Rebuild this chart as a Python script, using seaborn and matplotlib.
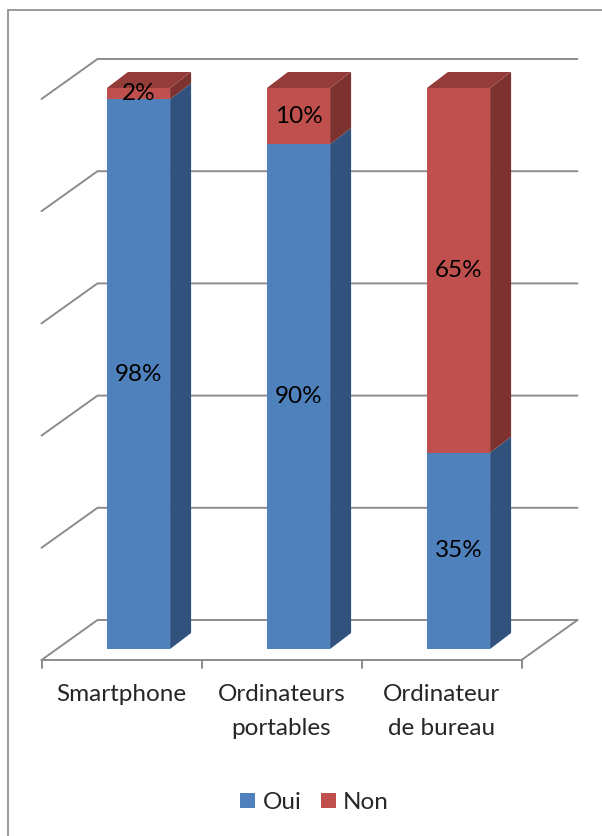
import numpy as np
import pandas as pd
import matplotlib
matplotlib.use("Agg")
import matplotlib.pyplot as plt
import seaborn as sns
from matplotlib.patches import Polygon, Patch
from matplotlib.lines import Line2D
from matplotlib.transforms import IdentityTransform

# Données du graphique
categories = ["Smartphone", "Ordinateurs\nportables", "Ordinateur\nde bureau"]
oui = [98, 90, 35]
non = [2, 10, 65]
series = ["Oui", "Non"]
yticks = [0, 20, 40, 60, 80, 100]

sns.set_style("white")
plt.rcParams['font.family'] = ['Lato', 'DejaVu Sans']
FS = 17.5

W, H = 602, 836
fig = plt.figure(figsize=(W / 100, H / 100), dpi=100)
ax = fig.add_axes([58.5 / W, 187 / H, 480 / W, 561 / H])
ax.patch.set_visible(False)

df = pd.DataFrame({"cat": categories, "Oui": oui, "Non": non})
df["total"] = df["Oui"] + df["Non"]

front = {"Oui": "#4F81BD", "Non": "#C0504D"}
side = {"Oui": "#32527E", "Non": "#7E3230"}
top = {"Oui": "#41699C", "Non": "#943C3A"}
grid_col = "#8C8C8C"

# faces avant des barres (empilées)
sns.barplot(data=df, x="cat", y="total", color=front["Non"], width=0.395,
            saturation=1, linewidth=0, ax=ax)
sns.barplot(data=df, x="cat", y="Oui", color=front["Oui"], width=0.395,
            saturation=1, linewidth=0, ax=ax)
ax.set_xlim(-0.5, 2.5)
ax.set_ylim(0, 100)
ax.axis("off")

# décalages "3D" en pixels (x, y vers le haut)
FLOOR = np.array([-17, -11])
WALL = np.array([39, 29])
DEPTH = np.array([21, 16])


def px(x, y):
    return ax.transData.transform((x, y))


def add_line(pts, **kw):
    pts = np.array(pts)
    ax.add_line(Line2D(pts[:, 0], pts[:, 1], transform=IdentityTransform(),
                       color=grid_col, lw=1.4, clip_on=False, zorder=0.5, **kw))


# murs / grille
x_lo, x_hi = ax.get_xlim()
for t in yticks:
    add_line([px(x_lo, t) + FLOOR, px(x_lo, t) + WALL, px(x_hi, t) + WALL])
# sol
add_line([px(x_lo, 0) + FLOOR, px(x_hi, 0) + FLOOR, px(x_hi, 0) + WALL])
for b in np.arange(x_lo, x_hi + 0.01, 1.0):
    p = px(b, 0) + FLOOR
    add_line([p, p + np.array([0, -8])])

# faces latérales et supérieures
bars = ax.containers[0]
for i, rect in enumerate(bars):
    x0 = rect.get_x()
    x1 = x0 + rect.get_width()
    bottom = 0
    last = None
    for s in series:
        val = df[s][i]
        if val <= 0:
            continue
        a = px(x1, bottom)
        b = px(x1, bottom + val)
        ax.add_patch(Polygon([a, b, b + DEPTH, a + DEPTH], closed=True,
                             transform=IdentityTransform(), facecolor=side[s],
                             lw=0, clip_on=False, zorder=3))
        ax.text(i, bottom + val / 2, f"{val}%", ha="center", va="center",
                fontsize=FS, color="black", zorder=5)
        bottom += val
        last = s
    fl = px(x0, bottom)
    fr = px(x1, bottom)
    ax.add_patch(Polygon([fl, fr, fr + DEPTH, fl + DEPTH], closed=True,
                         transform=IdentityTransform(), facecolor=top[last],
                         lw=0, clip_on=False, zorder=3))

# étiquettes des catégories
for i, c in enumerate(categories):
    xp = px(i, 0)[0] + FLOOR[0]
    ax.text(xp, H - 684, c, ha="center", va="top", fontsize=FS,
            linespacing=1.78, transform=IdentityTransform())

# légende
handles = [Patch(facecolor=front[s], edgecolor="none") for s in series]
fig.legend(handles, series, loc="center", bbox_to_anchor=(0.5224, 0.040),
           ncol=2, frameon=False, fontsize=FS, handlelength=0.62,
           handleheight=0.55, handletextpad=0.29, columnspacing=0.8)

# cadre du graphique
fig.add_artist(Line2D([8 / W, 8 / W], [0, 1 - 10 / H], transform=fig.transFigure,
                      color="#8A8A8A", lw=1.2))
fig.add_artist(Line2D([8 / W, 1], [1 - 10 / H, 1 - 10 / H], transform=fig.transFigure,
                      color="#8A8A8A", lw=1.2))

fig.savefig("out.png", dpi=100)
